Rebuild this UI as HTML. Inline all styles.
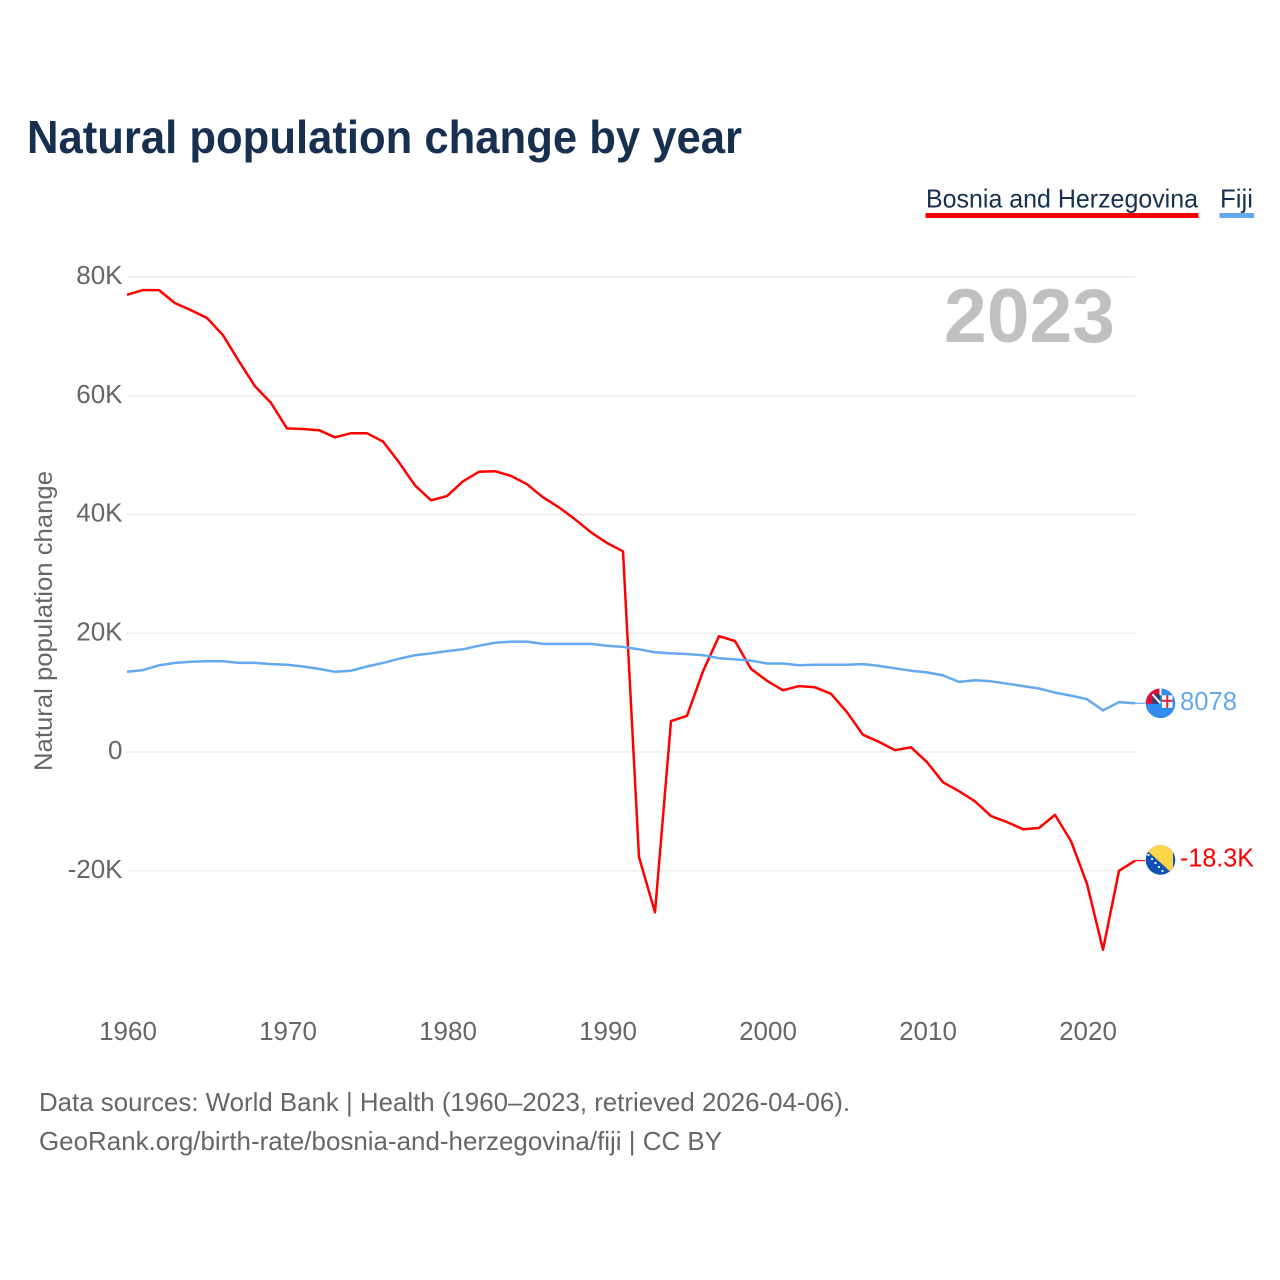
<!DOCTYPE html>
<html lang="en">
<head>
<meta charset="utf-8">
<title>Natural population change by year</title>
<style>
html,body{margin:0;padding:0;background:#fff;width:1280px;height:1280px;overflow:hidden}
svg{display:block;font-family:"Liberation Sans",sans-serif}
</style>
</head>
<body>
<svg id="chart" xmlns="http://www.w3.org/2000/svg" width="1280" height="1280" viewBox="0 0 1280 1280">
  <defs>
    <clipPath id="fiji-clip"><circle id="fiji-clip-circle" cx="1160.5" cy="703.5" r="14.8"></circle></clipPath>
    <clipPath id="bih-clip"><circle id="bih-clip-circle" cx="1160.5" cy="860" r="14.8"></circle></clipPath>
  </defs>
  <rect x="0" y="0" width="1280" height="1280" fill="#ffffff"></rect>
  <text x="27" y="153" font-size="46" font-weight="700" fill="#18304f" textLength="715" lengthAdjust="spacingAndGlyphs">Natural population change by year</text>

  <g>
    <g>
      <text x="926" y="207.5" font-size="26" fill="#18304f" textLength="272" lengthAdjust="spacingAndGlyphs">Bosnia and Herzegovina</text>
      <rect x="925.5" y="213" width="273" height="5" fill="#ff0000"></rect>
    </g>
    <g>
      <text x="1220" y="207.5" font-size="26" fill="#18304f" textLength="33" lengthAdjust="spacingAndGlyphs">Fiji</text>
      <rect x="1219.5" y="213" width="34.5" height="5" fill="#64a9ee"></rect>
    </g>
  </g>

  <g id="grid"></g>
  <g id="y-ticks"></g>
  <g id="x-ticks"></g>

  <text transform="translate(52 621) rotate(-90)" text-anchor="middle" font-size="25" fill="#666666" textLength="300" lengthAdjust="spacingAndGlyphs">Natural population change</text>
  <text x="944" y="342" font-size="76" font-weight="700" fill="#c0c0c0" textLength="171" lengthAdjust="spacingAndGlyphs">2023</text>

  <g id="series"></g>

  <g id="fiji-flag" clip-path="url(#fiji-clip)"></g>
  <g id="bih-flag" clip-path="url(#bih-clip)"></g>
  <g id="end-labels"></g>

  <text x="39" y="1111" font-size="26" fill="#666666" textLength="811" lengthAdjust="spacingAndGlyphs">Data sources: World Bank | Health (1960–2023, retrieved 2026-04-06).</text>
  <text x="39" y="1150" font-size="26" fill="#666666" textLength="683" lengthAdjust="spacingAndGlyphs">GeoRank.org/birth-rate/bosnia-and-herzegovina/fiji | CC BY</text>
</svg>

<script>
// Chart data (values in thousands)
const firstYear = 1960;
const bosniaValues = [77.0,77.8,77.8,75.6,74.4,73.1,70.2,65.8,61.6,58.8,54.5,54.4,54.2,53.0,53.7,53.7,52.3,48.8,44.9,42.4,43.1,45.6,47.2,47.3,46.5,45.1,42.9,41.2,39.2,37.0,35.2,33.8,-17.7,-27.0,5.2,6.1,13.6,19.5,18.7,14.0,12.0,10.4,11.1,10.9,9.8,6.7,2.9,1.7,0.3,0.8,-1.7,-5.1,-6.6,-8.3,-10.8,-11.8,-13.0,-12.8,-10.6,-15.0,-22.2,-33.3,-20.0,-18.3];
const fijiValues = [13.5,13.8,14.6,15.0,15.2,15.3,15.3,15.0,15.0,14.8,14.7,14.4,14.0,13.5,13.7,14.4,15.0,15.7,16.3,16.6,17.0,17.3,17.9,18.4,18.6,18.6,18.2,18.2,18.2,18.2,17.9,17.7,17.3,16.8,16.6,16.5,16.3,15.8,15.6,15.4,14.9,14.9,14.6,14.7,14.7,14.7,14.8,14.5,14.1,13.7,13.4,12.9,11.8,12.1,11.9,11.5,11.1,10.7,10.0,9.5,8.9,7.0,8.4,8.2];
const yTickValues = [80,60,40,20,0,-20];
const yTickLabels = ["80K","60K","40K","20K","0","-20K"];
const xTickYears = [1960,1970,1980,1990,2000,2010,2020];
const endLabels = ["-18.3K","8078"];

const NS = "http://www.w3.org/2000/svg";
function xScale(year){ return 127 + (year - 1960) * 16; }
function yScale(v){ return 752 - v * 5.9375; }
function make(tag, attrs, parent){
  const el = document.createElementNS(NS, tag);
  for (const k in attrs) el.setAttribute(k, attrs[k]);
  parent.appendChild(el);
  return el;
}

const grid = document.getElementById('grid');
const yTicks = document.getElementById('y-ticks');
yTickValues.forEach(function(v, i){
  const line = make('line', {x1:127, x2:1135.5, y1:yScale(v), y2:yScale(v), stroke:'#eeeeee', 'stroke-width':1.5}, grid);
  
  
  const t = make('text', {x:122.5, y:yScale(v)+7, 'text-anchor':'end', 'font-size':26, fill:'#666666'}, yTicks);
  t.textContent = yTickLabels[i];
  
  
});

const xTicks = document.getElementById('x-ticks');
xTickYears.forEach(function(yr){
  const t = make('text', {x:xScale(yr)+1, y:1040, 'text-anchor':'middle', 'font-size':26, fill:'#666666'}, xTicks);
  t.textContent = yr;
  
  
});

const seriesGroup = document.getElementById('series');
function drawSeries(values, color){
  const pts = values.map(function(v, i){ return xScale(firstYear + i).toFixed(1) + ',' + yScale(v).toFixed(1); }).join(' ');
  const path = make('polyline', {points:pts, fill:'none', stroke:color, 'stroke-width':2.5, 'stroke-linejoin':'round'}, seriesGroup);
  
  
  const lastX = xScale(firstYear + values.length - 1);
  const lastY = yScale(values[values.length - 1]);
  const stub = make('line', {x1:lastX, x2:lastX + 10, y1:lastY, y2:lastY, stroke:color, 'stroke-width':1.2}, seriesGroup);
  
  
  return lastY;
}
const bosniaEnd = drawSeries(bosniaValues, '#ff0000');
const fijiEnd = drawSeries(fijiValues, '#64a9ee');

// Flags follow the last data value
const cx = 1160.5;
const fy = fijiEnd;
const by = bosniaEnd - 0.7;
document.getElementById('fiji-clip-circle').setAttribute('cy', fy);
document.getElementById('bih-clip-circle').setAttribute('cy', by);

const ff = document.getElementById('fiji-flag');
make('rect', {x:cx-15, y:fy-15, width:30, height:30, fill:'#2f8df2'}, ff);
make('rect', {x:cx-15, y:fy-15, width:14, height:15.5, fill:'#d8143a'}, ff);
make('rect', {x:cx-8, y:fy-9, width:8, height:9.5, fill:'#27407f'}, ff);
make('line', {x1:cx-8, y1:fy-9, x2:cx, y2:fy, stroke:'#ffffff', 'stroke-width':2}, ff);
make('rect', {x:cx-1, y:fy-15, width:2, height:7, fill:'#ffffff'}, ff);
make('rect', {x:cx+1.5, y:fy-8, width:10.5, height:12.5, fill:'#ffffff'}, ff);
make('rect', {x:cx+5.8, y:fy-8, width:2, height:12.5, fill:'#e0203a'}, ff);
make('rect', {x:cx+1.5, y:fy-3.5, width:10.5, height:2, fill:'#e0203a'}, ff);

const bf = document.getElementById('bih-flag');
make('rect', {x:cx-15, y:by-15, width:30, height:30, fill:'#1152b4'}, bf);
make('polygon', {points:[(cx-14)+','+(by-10), (cx-14)+','+(by-16), (cx+12.5)+','+(by-16), (cx+12.5)+','+(by+14)].join(' '), fill:'#fdd54a'}, bf);
[[-12,-5],[-8.5,-1],[-5,3],[-1.5,7],[2,11]].forEach(function(o){
  make('circle', {cx:cx+o[0], cy:by+o[1], r:1.1, fill:'#ffffff'}, bf);
});

const labelGroup = document.getElementById('end-labels');
const lb = make('text', {x:1180, y:bosniaEnd+6, 'font-size':26, fill:'#ff0000', textLength:74, lengthAdjust:'spacingAndGlyphs'}, labelGroup);
lb.textContent = endLabels[0];


const lf = make('text', {x:1180, y:fijiEnd+6.5, 'font-size':26, fill:'#64a9ee', textLength:57, lengthAdjust:'spacingAndGlyphs'}, labelGroup);
lf.textContent = endLabels[1];


</script>
</body>
</html>
